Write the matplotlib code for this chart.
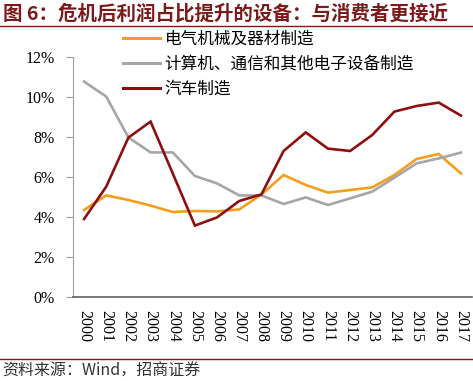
import matplotlib
matplotlib.use('Agg')
import matplotlib.pyplot as plt
from matplotlib.lines import Line2D
from matplotlib.ticker import FuncFormatter

plt.rcParams['font.family'] = ['Noto Sans CJK SC', 'DejaVu Sans']

YEARS = [str(y) for y in range(2000, 2018)]
ELECTRIC = [4.35, 5.08, 4.85, 4.57, 4.25, 4.30, 4.28, 4.38, 5.12, 6.10,
            5.60, 5.22, 5.35, 5.48, 6.10, 6.90, 7.15, 6.18]
COMPUTER = [10.77, 10.02, 7.98, 7.23, 7.23, 6.05, 5.68, 5.08, 5.08, 4.65,
            4.98, 4.60, 4.93, 5.27, 5.97, 6.68, 6.93, 7.22]
AUTO = [3.90, 5.52, 7.97, 8.77, 6.18, 3.57, 3.98, 4.80, 5.13, 7.30,
        8.23, 7.42, 7.30, 8.10, 9.27, 9.55, 9.72, 9.07]
SERIES_NAMES = ['电气机械及器材制造', '计算机、通信和其他电子设备制造', '汽车制造']
COLORS = ['#F59D1C', '#A6A6A6', '#8C1010']

W, H = 473, 381
fig = plt.figure(figsize=(W / 100, H / 100), dpi=100)
ax = fig.add_axes([73 / W, (H - 297) / H, (472 - 73) / W, (297 - 57) / H])

x = list(range(len(YEARS)))
for vals, col in zip([ELECTRIC, COMPUTER, AUTO], COLORS):
    ax.plot(x, vals, color=col, linewidth=1.9, solid_joinstyle='miter')

ax.set_xlim(-0.5, len(YEARS) - 0.5)
ax.set_ylim(0, 12)
ax.set_yticks(range(0, 13, 2))
ax.yaxis.set_major_formatter(FuncFormatter(lambda v, p: f'{v:.0f}%'))
ax.set_xticks(x)
ax.set_xticklabels(YEARS, rotation=-90, family='Liberation Serif', fontsize=11.5)
for lab in ax.get_yticklabels():
    lab.set_family('Liberation Serif')
    lab.set_fontsize(11.5)

ax.spines['top'].set_visible(False)
ax.spines['right'].set_visible(False)
ax.spines['left'].set_color('#A0A0A0')
ax.spines['bottom'].set_color('#606060')
ax.spines['bottom'].set_linewidth(1.2)
ax.tick_params(axis='y', length=5, color='#A0A0A0', pad=8)
ax.tick_params(axis='x', length=0, pad=9)

handles = [Line2D([], [], color=c, linewidth=2.2) for c in COLORS]
fig.legend(handles, SERIES_NAMES, loc='upper left', bbox_to_anchor=(123 / W, 1 - 31 / H),
           frameon=False, fontsize=12, handlelength=2.2, handletextpad=0.3,
           labelspacing=0.48, borderpad=0, borderaxespad=0)

fig.text(3 / W, 1 - 14 / H, '图 6：危机后利润占比提升的设备：与消费者更接近', fontsize=14,
         fontweight='bold', color='#7A1A1A', va='center', ha='left')
fig.add_artist(Line2D([0, 1], [1 - 25.5 / H, 1 - 25.5 / H], color='#7A1A1A', linewidth=1.0))
fig.add_artist(Line2D([0, 1], [1 - 359 / H, 1 - 359 / H], color='#7A1A1A', linewidth=1.0))
fig.text(2 / W, 1 - 371 / H, '资料来源：Wind，招商证券', fontsize=11.5, color='#333333',
         va='center', ha='left', family=['Noto Sans CJK SC', 'DejaVu Sans'])

fig.savefig('out.png', dpi=100)
